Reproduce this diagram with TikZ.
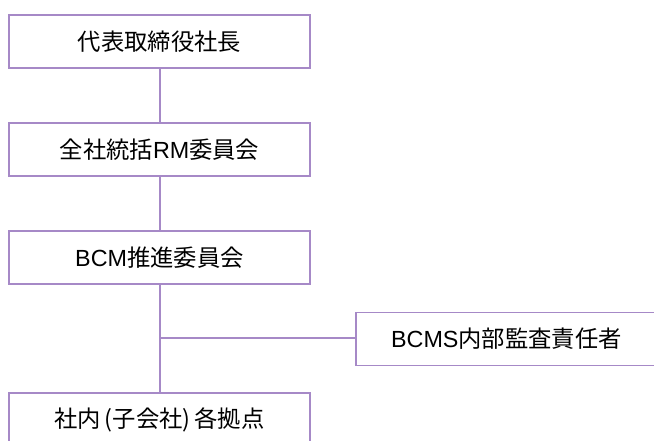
\documentclass[tikz,border=0pt]{standalone}
\usepackage{fontspec}
\setmainfont{Noto Sans CJK JP}
\newfontfamily\latinfont{Liberation Sans}
\newcommand{\lat}[1]{{\latinfont #1}}
\tikzset{every picture/.style={line width=1.1pt}}
\tikzset{orgbox/.style={draw={rgb, 255:red, 166; green, 137; blue, 199 }, fill=white, minimum width=226pt, minimum height=40pt, inner sep=0pt, font=\fontsize{17.5}{21}\selectfont},
  orgline/.style={draw={rgb, 255:red, 166; green, 137; blue, 199 }}}

\begin{document}
\begin{tikzpicture}[x=0.75pt,y=0.75pt,yscale=-1,xscale=1]
\useasboundingbox (0,0) rectangle (654,441);
\clip (0,0) rectangle (654,441);

%Shape: Rectangle [id:ceo]
\node [orgbox] (ceo) at (159.5,41.5) {代表取締役社長};
%Shape: Rectangle [id:rm]
\node [orgbox] (rm) at (159.5,149.5) {全社統括\lat{RM}委員会};
%Shape: Rectangle [id:bcm]
\node [orgbox] (bcm) at (159.5,257.5) {\lat{BCM}推進委員会};
%Shape: Rectangle [id:audit]
\node [orgbox] (audit) at (506.5,339) {\lat{BCMS}内部監査責任者};
%Shape: Rectangle [id:sites]
\node [orgbox] (sites) at (159.5,419.5) {社内\,(子会社)\,各拠点};

%Straight Lines
\draw [orgline] (ceo.south -| 160,0) -- (rm.north -| 160,0) ;
\draw [orgline] (rm.south -| 160,0) -- (bcm.north -| 160,0) ;
\draw [orgline] (bcm.south -| 160,0) -- (sites.north -| 160,0) ;
\coordinate (branch) at (160,338) ;
\draw [orgline] (branch) -- (audit.west |- branch) ;

\end{tikzpicture}
\end{document}
